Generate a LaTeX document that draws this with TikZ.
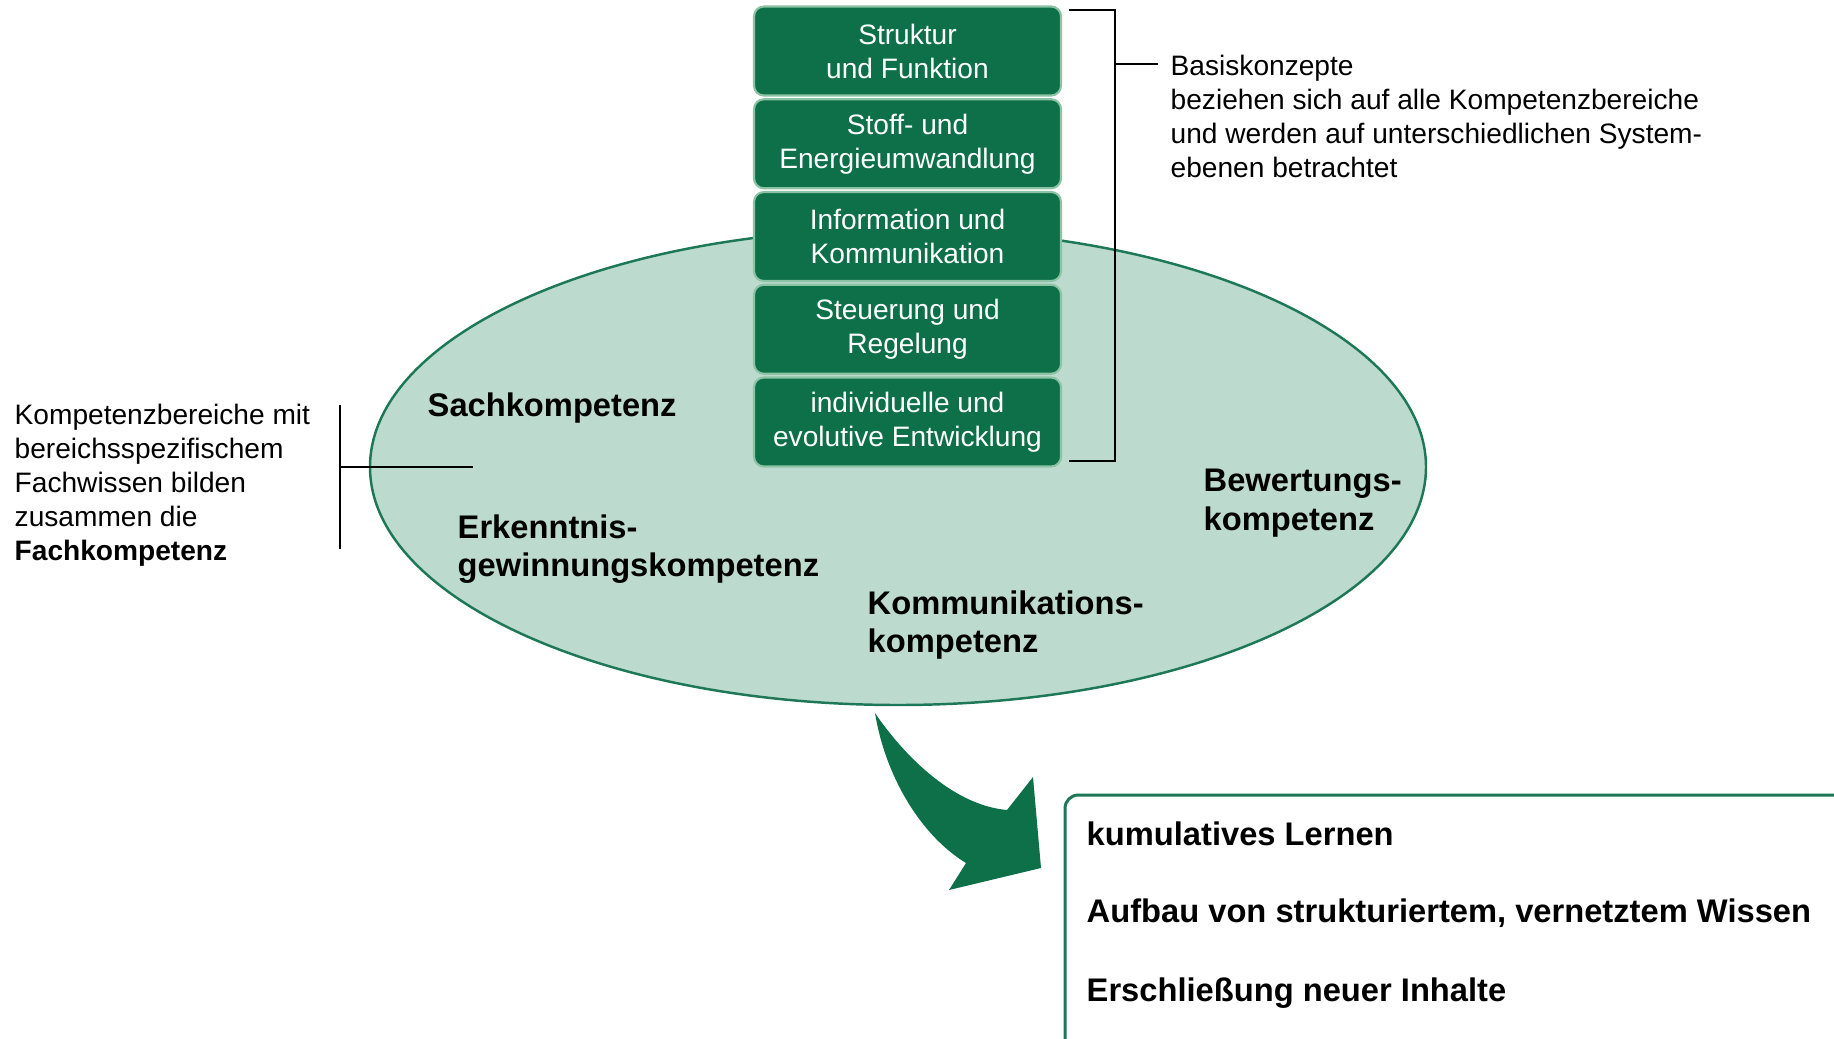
\documentclass[tikz,border=0pt]{standalone}
\usepackage{fontspec}
\setmainfont{Liberation Sans}
\usetikzlibrary{shapes.geometric}

\definecolor{boxgreen}{RGB}{14,112,73}
\definecolor{boxrim}{RGB}{140,195,165}
\definecolor{ovalfill}{RGB}{189,218,207}
\definecolor{ovalline}{RGB}{28,120,86}

\begin{document}
\begin{tikzpicture}[x=0.1mm, y=-0.1mm,
	konzept/.style={draw=boxrim, line width=0.6pt, fill=boxgreen, rounded corners=2.8pt, text=white, align=center,
		minimum width=30.7mm, minimum height=8.9mm, inner sep=0pt, font=\fontsize{8}{9.67}\selectfont},
	fliess/.style={anchor=west, align=left, inner sep=0pt, font=\fontsize{8}{9.67}\selectfont},
	bereich/.style={anchor=west, align=left, inner sep=0pt, font=\bfseries\fontsize{9.3}{10.95}\selectfont},
	klammer/.style={line width=0.6pt, black}]
\useasboundingbox (0,0) rectangle (1834,1038);

\node[ellipse, draw=ovalline, fill=ovalfill, line width=0.7pt, minimum width=105.6mm, minimum height=47.6mm, inner sep=0pt] (oval) at (898,467) {};

\foreach \txt [count=\i] in {{Struktur\\und Funktion}, {Stoff- und\\Energieumwandlung}, {Information und\\Kommunikation},
	{Steuerung und\\Regelung}, {individuelle und\\evolutive Entwicklung}}
	\node[konzept] (k\i) at (907.5,{51+92.75*(\i-1)}) {\txt};

\node[fliess] (basis) at (1170,116) {Basiskonzepte\\beziehen sich auf alle Kompetenzbereiche\\und werden auf unterschiedlichen System-\\ebenen betrachtet};
\node[fliess] (fach) at (14,485) {Kompetenzbereiche mit\\bereichsspezifischem\\Fachwissen bilden\\zusammen die\\\textbf{Fachkompetenz}};

\node[bereich] (sach) at (427,408) {Sachkompetenz};
\node[bereich] (erk) at (457,549) {Erkenntnis-\\gewinnungskompetenz};
\node[bereich] (komm) at (867,625) {Kommunikations-\\kompetenz};
\node[bereich] (bew) at (1203,503) {Bewertungs-\\kompetenz};

\coordinate (ro) at (1069,10);
\coordinate (ru) at (1069,461);
\draw[klammer] (ro) -| (1115,461) -- (ru);
\draw[klammer] (1115,64) -- (1158,64);
\coordinate (lo) at (340,405);
\coordinate (lu) at (340,549);
\draw[klammer] (lo) -- (lu) (lo|-oval.west) -- ++(133,0);

\fill[boxgreen] (875,713) .. controls (900,750) and (950,805) .. (1007,810) -- (1033,777) -- (1041,868) -- (949,890)
	-- (966,863) .. controls (920,835) and (885,775) .. cycle;

\draw[ovalline, line width=0.85pt, rounded corners=3.8pt] (1065,1090) |- (1900,795);
\node[bereich] (z1) at (1086,834) {kumulatives Lernen};
\node[bereich] (z2) at (1086,913) {Aufbau von strukturiertem, vernetztem Wissen};
\node[bereich] (z3) at (1086,993) {Erschließung neuer Inhalte};
\end{tikzpicture}
\end{document}
